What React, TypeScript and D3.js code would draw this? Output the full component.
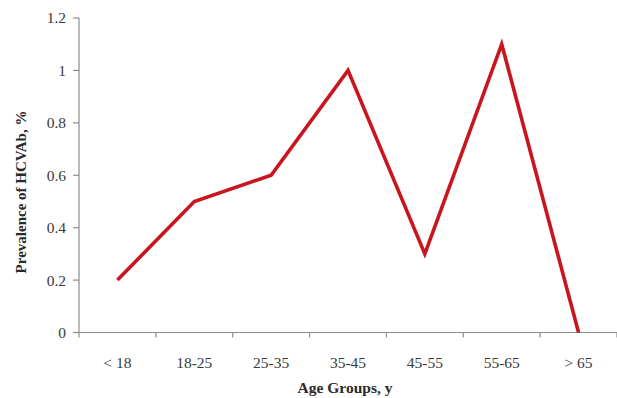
import React from "react";
import * as d3 from "d3";

const categories = ["< 18", "18-25", "25-35", "35-45", "45-55", "55-65", "> 65"];
const prevalence = [0.2, 0.5, 0.6, 1.0, 0.3, 1.1, 0.0];
const yTicks = [0, 0.2, 0.4, 0.6, 0.8, 1, 1.2];

const W = 617;
const H = 398;
const M = { left: 79, right: 617, top: 18, bottom: 332.5 };
const FONT = "'Liberation Serif', 'DejaVu Serif', serif";

export default function App() {
  const x = d3.scaleBand<string>().domain(categories).range([M.left, M.right]).padding(0);
  const y = d3.scaleLinear().domain([0, 1.2]).range([M.bottom, M.top]);
  const line = d3
    .line<number>()
    .x((_, i) => (x(categories[i]) as number) + x.bandwidth() / 2)
    .y((d) => y(d));
  const axisColor = "#8c8c8c";
  const tickBoundaries = d3.range(categories.length + 1).map((i) => M.left + i * x.bandwidth());
  return (
    <svg
      width={W}
      height={H}
      style={{ position: "absolute", left: 0, top: 0, background: "#fff" }}
    >
      {/* y axis */}
      <line x1={M.left} x2={M.left} y1={M.top} y2={M.bottom} stroke={axisColor} strokeWidth={1.2} />
      {yTicks.map((t) => (
        <g key={t}>
          <line x1={M.left - 6} x2={M.left} y1={y(t)} y2={y(t)} stroke={axisColor} strokeWidth={1.2} />
          <text
            x={66}
            y={y(t)}
            dy="0.35em"
            textAnchor="end"
            fontFamily={FONT}
            fontSize={15.5}
            fill="#3a3a3a"
          >
            {String(t)}
          </text>
        </g>
      ))}
      {/* x axis */}
      <line x1={M.left - 2} x2={M.right} y1={M.bottom} y2={M.bottom} stroke={axisColor} strokeWidth={1.2} />
      {tickBoundaries.map((bx, i) => (
        <line key={i} x1={bx} x2={bx} y1={M.bottom} y2={M.bottom + 5} stroke={axisColor} strokeWidth={1.2} />
      ))}
      {categories.map((c) => (
        <text
          key={c}
          x={(x(c) as number) + x.bandwidth() / 2}
          y={368}
          textAnchor="middle"
          fontFamily={FONT}
          fontSize={15.5}
          fill="#3a3a3a"
        >
          {c}
        </text>
      ))}
      <path d={line(prevalence) || ""} fill="none" stroke="#c9151e" strokeWidth={3.6} strokeLinejoin="miter" />
      <text
        x={345}
        y={393}
        textAnchor="middle"
        fontFamily={FONT}
        fontSize={15.5}
        fontWeight="bold"
        fill="#2a2a2a"
      >
        Age Groups, y
      </text>
      <text
        transform={`translate(26, 192) rotate(-90)`}
        textAnchor="middle"
        fontFamily={FONT}
        fontSize={15}
        fontWeight="bold"
        fill="#2a2a2a"
      >
        Prevalence of HCVAb, %
      </text>
    </svg>
  );
}
